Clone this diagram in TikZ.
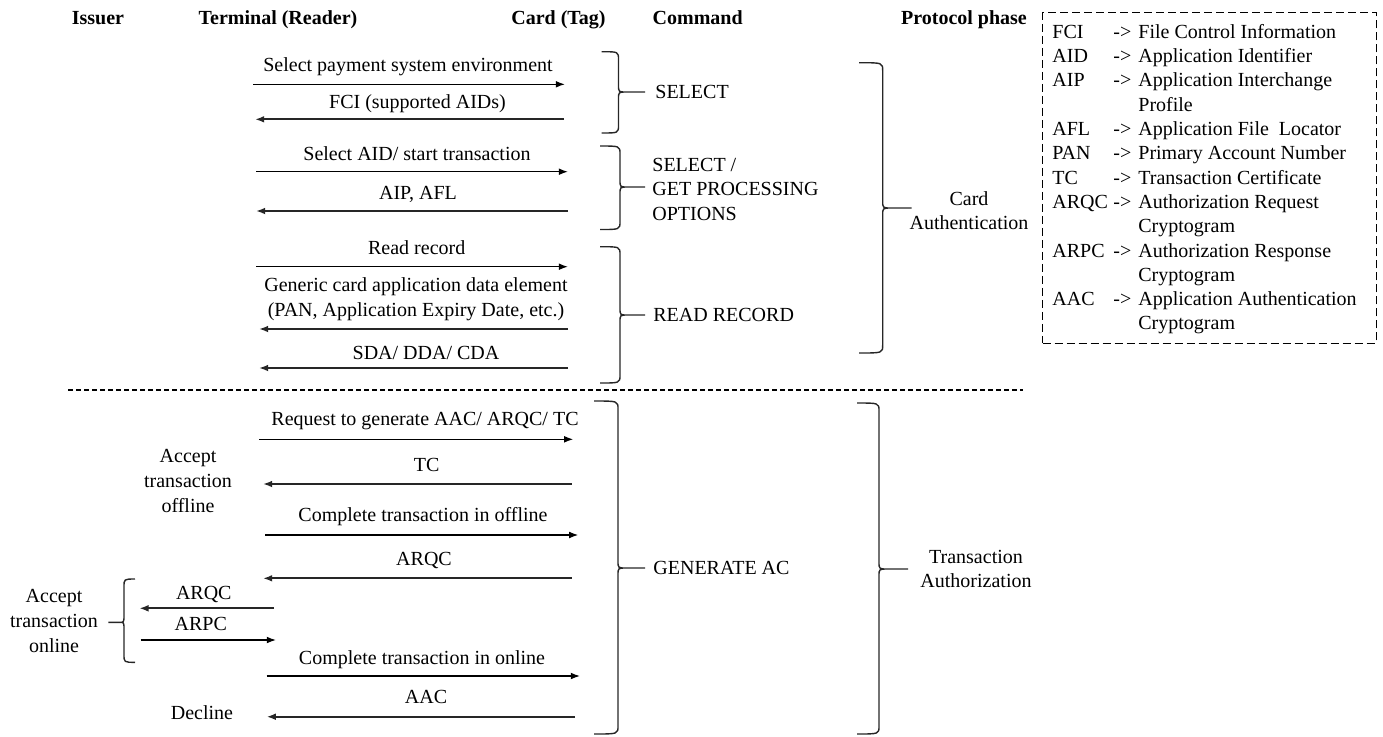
\documentclass[tikz,border=0pt]{standalone}
\usepackage{fontspec}
\setmainfont{Liberation Serif}
\usetikzlibrary{arrows.meta}

% Curly brace: #1 end x, #2 spine x, #3 tip x, #4 top y, #5 middle y, #6 bottom y
\newcommand{\curlybr}[6]{%
  \draw[bracestyle]
    (#1,#4) .. controls ({#2},#4) .. ({#2},{#4+8}) -- ({#2},{#5-7})
      .. controls ({#2},#5) .. ({#2+0.3*(#3-#2)},#5) -- (#3,#5)
    (#1,#6) .. controls ({#2},#6) .. ({#2},{#6-8}) -- ({#2},{#5+7})
      .. controls ({#2},#5) .. ({#2+0.3*(#3-#2)},#5);
}

\begin{document}
\begin{tikzpicture}[x=0.5pt,y=-0.5pt,
  font=\fontsize{10pt}{12.3pt}\selectfont,
  lab/.style={anchor=base, inner sep=0pt},
  hdr/.style={lab, font=\fontsize{10pt}{12.3pt}\selectfont\bfseries},
  mlab/.style={align=center, inner sep=0pt},
  msg/.style={draw, line width=0.65pt, -{Latex[length=4.6pt,width=3.4pt]}},
  msgback/.style={draw=black!85, line width=0.9pt, -{Latex[length=4.6pt,width=3.4pt]}},
  bracestyle/.style={line width=0.7pt, line join=round, draw=black!85},
  sepline/.style={line width=1pt, dash pattern=on 2.5pt off 1.5pt},
  legendframe/.style={draw, line width=0.5pt, dash pattern=on 4pt off 2pt}]

\useasboundingbox (0,0) rectangle (1383,736);

% column headers
\node[hdr] (hIssuer) at (98,24.9) {Issuer};
\node[hdr] (hTerm)   at (278,24.9) {Terminal (Reader)};
\node[hdr] (hCard)   at (558.5,24.9) {Card (Tag)};
\node[hdr] (hCmd)    at (697.7,24.9) {Command};
\node[hdr] (hPhase)  at (964,24.9) {Protocol phase};

% ---------- card authentication messages ----------
\node[lab] (m1) at (408,71.6) {Select payment system environment};
\coordinate (a1s) at (253,84.3); \coordinate (a1e) at (565,84.3);
\draw[msg] (a1s) -- (a1e);

\node[lab] (m2) at (417.5,108.3) {FCI (supported AIDs)};
\coordinate (a2s) at (564,119.3); \coordinate (a2e) at (255,119.3);
\draw[msgback] (a2s) -- (a2e);

\node[lab] (m3) at (417,160.6) {Select AID/ start transaction};
\coordinate (a3s) at (256,171.7); \coordinate (a3e) at (568,171.7);
\draw[msg] (a3s) -- (a3e);

\node[lab] (m4) at (418,199.6) {AIP, AFL};
\coordinate (a4s) at (568,211); \coordinate (a4e) at (256,211);
\draw[msgback] (a4s) -- (a4e);

\node[lab] (m5) at (416.7,254.6) {Read record};
\coordinate (a5s) at (256,266.7); \coordinate (a5e) at (568,266.7);
\draw[msg] (a5s) -- (a5e);

\node[mlab] (m6) at (416,299.5) {Generic card application data element\\(PAN, Application Expiry Date, etc.)};
\coordinate (a6s) at (568,329); \coordinate (a6e) at (259,329);
\draw[msgback] (a6s) -- (a6e);

\node[lab] (m7) at (426,359.3) {SDA/ DDA/ CDA};
\coordinate (a7s) at (568,368); \coordinate (a7e) at (259,368);
\draw[msgback] (a7s) -- (a7e);

% command braces
\curlybr{601.7}{618.5}{645}{51.7}{92}{133}
\node[lab, anchor=base west] (cSel) at (655,98.6) {SELECT};
\curlybr{600}{620}{645}{146}{187}{229.5}
\node[inner sep=0pt, align=left, anchor=west] (cGpo) at (652,189.3) {SELECT /\\GET PROCESSING\\OPTIONS};
\curlybr{600}{620}{645}{246.7}{315}{383}
\node[lab, anchor=base west] (cRead) at (653,321.6) {READ RECORD};

% phase brace
\curlybr{859}{882.7}{911.7}{62.7}{208}{353}
\node[mlab] (pCard) at (969,210.5) {Card\\Authentication};

% separator between phases
\coordinate (sepL) at (68,390); \coordinate (sepR) at (1023,390);
\draw[sepline] (sepL) -- (sepR);

% ---------- transaction authorization messages ----------
\node[lab] (n1) at (425,425.9) {Request to generate AAC/ ARQC/ TC};
\coordinate (b1s) at (259.3,439.3); \coordinate (b1e) at (573.3,439.3);
\draw[msg] (b1s) -- (b1e);

\node[lab] (n2) at (426.7,471.6) {TC};
\coordinate (b2s) at (571.7,484); \coordinate (b2e) at (263,484);
\draw[msgback] (b2s) -- (b2e);

\node[lab] (n3) at (423,521.6) {Complete transaction in offline};
\coordinate (b3s) at (265,535); \coordinate (b3e) at (578.3,535);
\draw[msg] (b3s) -- (b3e);

\node[lab] (n4) at (424,565.6) {ARQC};
\coordinate (b4s) at (571.7,578.3); \coordinate (b4e) at (263,578.3);
\draw[msgback] (b4s) -- (b4e);

\node[lab] (n5) at (203.8,599.9) {ARQC};
\coordinate (b5s) at (274,608.3); \coordinate (b5e) at (139.3,608.3);
\draw[msgback] (b5s) -- (b5e);

\node[lab] (n6) at (200.8,630.9) {ARPC};
\coordinate (b6s) at (140.7,640); \coordinate (b6e) at (276,640);
\draw[msg] (b6s) -- (b6e);

\node[lab] (n7) at (422,664.3) {Complete transaction in online};
\coordinate (b7s) at (266.7,676); \coordinate (b7e) at (580,676);
\draw[msg] (b7s) -- (b7e);

\node[lab] (n8) at (426,703.3) {AAC};
\coordinate (b8s) at (575,716.7); \coordinate (b8e) at (266.7,716.7);
\draw[msgback] (b8s) -- (b8e);

% outcomes at the terminal / issuer side
\node[mlab] (offl) at (188,481) {Accept\\transaction\\offline};
\curlybr{135}{124}{108.3}{579}{622.3}{662.3}
\node[mlab] (onl) at (54,621) {Accept\\transaction\\online};
\node[lab] (decl) at (202,719.9) {Decline};

% command and phase braces
\curlybr{594}{618}{645}{401}{568}{734}
\node[lab, anchor=base west] (cGen) at (653,574.6) {GENERATE AC};
\curlybr{857}{879}{908}{403}{569}{734}
\node[mlab] (pTrans) at (976,569) {Transaction\\Authorization};

% abbreviation legend
\node[legendframe, minimum width=166.65pt, minimum height=165.15pt, inner sep=0pt] (legbox) at (1209.35,177.85) {};
\node[anchor=base west, inner sep=0pt, font=\fontsize{10pt}{12.15pt}\selectfont] (legend) at (1052,38.3) {%
\begin{tabular}[t]{@{}p{30.5pt}@{}p{12.5pt}@{}l@{}}
FCI  & -> & File Control Information\\
AID  & -> & Application Identifier\\
AIP  & -> & Application Interchange\\
     &    & Profile\\
AFL  & -> & Application File~ Locator\\
PAN  & -> & Primary Account Number\\
TC   & -> & Transaction Certificate\\
ARQC & -> & Authorization Request\\
     &    & Cryptogram\\
ARPC & -> & Authorization Response\\
     &    & Cryptogram\\
AAC  & -> & Application Authentication\\
     &    & Cryptogram
\end{tabular}};

\end{tikzpicture}
\end{document}
